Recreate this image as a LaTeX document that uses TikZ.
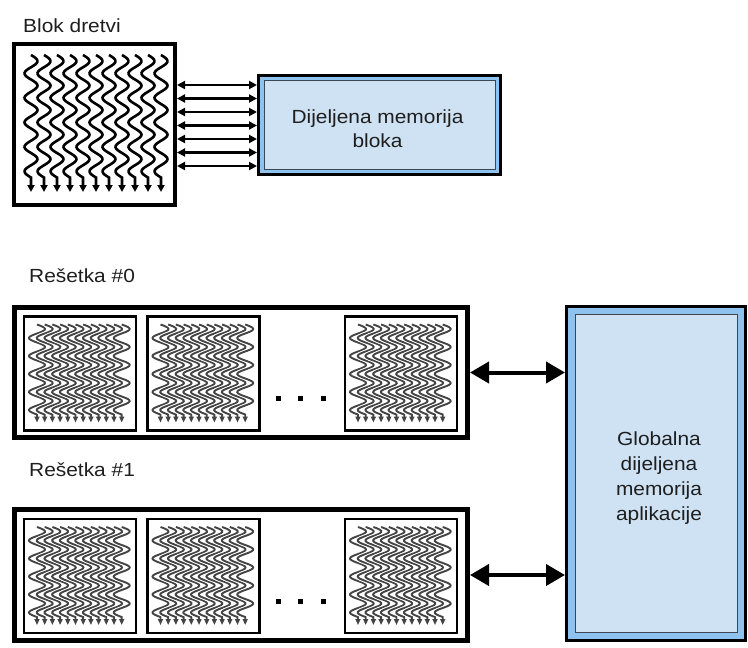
\documentclass[tikz,border=0pt]{standalone}
\usepackage{fontspec}
\setmainfont{Liberation Sans}[FakeStretch=1.1]
\usetikzlibrary{arrows.meta}

\definecolor{memfill}{HTML}{CFE2F3}
\definecolor{memband}{HTML}{8DC3EE}
\definecolor{memline}{HTML}{3C4650}
\definecolor{txt}{HTML}{1E1E1E}
\definecolor{thr}{HTML}{444444}

% one wavy thread: x, top y, end of wave, tip y, amplitude, period, style prefix
\newcommand\wthread[7]{%
  \draw[#7 halo] plot[domain=#2:#3, samples=90, smooth, variable=\t]
      ({#1+#5*sin(((\t-(#2))/#6)*360)}, \t) -- (#1, #4-3);
  \draw[#7 line] plot[domain=#2:#3, samples=90, smooth, variable=\t]
      ({#1+#5*sin(((\t-(#2))/#6)*360)}, \t) -- (#1, #4);
}

\tikzset{
  blockbox/.style={draw=black, line width=4pt, fill=white, inner sep=0pt},
  gridbox/.style={draw=black, line width=5pt, fill=white, inner sep=0pt},
  subbox/.style={draw=black, line width=2.8pt, fill=white, inner sep=0pt,
                 minimum width=112pt, minimum height=114pt},
  membox/.style={draw=black, line width=3pt, fill=memband, inner sep=0pt},
  meminner/.style={draw=memline, line width=0.9pt, fill=memfill},
  lbl/.style={text=txt, font=\fontsize{19}{24}\selectfont, inner sep=0pt},
  dotmark/.style={fill=black, minimum size=5pt, inner sep=0pt},
  top halo/.style={white, line width=5.2pt},
  top line/.style={black, line width=2.6pt, -{Triangle[length=7pt,width=7pt]}},
  in halo/.style={white, line width=3.8pt},
  in line/.style={thr, line width=1.9pt, -{Triangle[length=6pt,width=5pt]}},
  smallarr/.style={black, line width=2.2pt,
    {Triangle[length=8pt,width=8pt]}-{Triangle[length=8pt,width=8pt]}},
  bigarr/.style={black, line width=4pt,
    {Triangle[length=19pt,width=21pt]}-{Triangle[length=19pt,width=21pt]}},
}

\begin{document}
\begin{tikzpicture}[x=1pt, y=-1pt]
\useasboundingbox (0,0) rectangle (748,648);

% ---- thread block and its shared memory ----
\node[lbl, anchor=base west] (lblok) at (23,32) {Blok dretvi};
\node[blockbox, minimum width=161pt, minimum height=161pt] (blok) at (94.5,124.5) {};
\foreach \i in {0,...,10} {
  \wthread{31+13*\i}{55}{177.5}{192}{6.5}{24.5}{top}
}

\node[membox, minimum width=242pt, minimum height=99pt] (shm) at (379.5,125) {};
\draw[meminner] ([shift={(7,6.5)}]shm.north west) rectangle ([shift={(-7,-6.5)}]shm.south east);
\node[lbl, anchor=base] (shmA) at (377.5,123) {Dijeljena memorija};
\node[lbl, anchor=base] (shmB) at (377.5,147) {bloka};

\foreach \k in {0,...,6} {
  \coordinate (row\k) at (0,{85+13.5*\k});
  \draw[smallarr] (blok.east |- row\k) -- (shm.west |- row\k);
}

% ---- grids of blocks ----
\node[lbl, anchor=base west] (lg0) at (29,282) {Rešetka \#0};
\node[lbl, anchor=base west] (lg1) at (29,476) {Rešetka \#1};

\node[gridbox, minimum width=453pt, minimum height=130pt] (g0) at (241,372.5) {};
\node[gridbox, minimum width=453pt, minimum height=131pt] (g1) at (241,575) {};

\foreach \gy/\gn in {373.5/0, 576/1} {
  \foreach \bx/\bn in {80/a, 203.5/b, 401/c} {
    \node[subbox] (s\gn\bn) at (\bx,\gy) {};
    \foreach \i in {0,...,11} {
      \wthread{\bx-43+7.7*\i}{\gy-49}{\gy+41}{\gy+49}{8}{18}{in}
    }
  }
  \foreach \dx/\dn in {278/1, 300/2, 323/3} {
    \node[dotmark] (dot\gn\dn) at (\dx,\gy+25) {};
  }
}

% ---- global memory ----
\node[membox, minimum width=179pt, minimum height=333.5pt] (gmem) at (656,473.25) {};
\draw[meminner] ([shift={(10,9.5)}]gmem.north west) rectangle ([shift={(-10,-9.5)}]gmem.south east);
\node[lbl, anchor=base] (gmA) at (659,445) {Globalna};
\node[lbl, anchor=base] (gmB) at (659,470) {dijeljena};
\node[lbl, anchor=base] (gmC) at (659,495) {memorija};
\node[lbl, anchor=base] (gmD) at (659,520) {aplikacije};

\draw[bigarr] (g0.east) -- (gmem.west |- g0.east);
\draw[bigarr] (g1.east) -- (gmem.west |- g1.east);
\end{tikzpicture}
\end{document}
